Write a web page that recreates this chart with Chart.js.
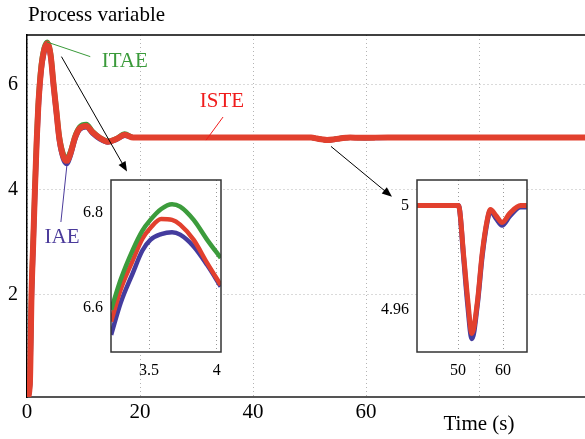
<!DOCTYPE html>
<html><head><meta charset="utf-8">
<script src="https://cdn.jsdelivr.net/npm/chart.js@4.4.1/dist/chart.umd.min.js"></script>
<style>
html,body{margin:0;padding:0;background:#fff;}
#wrap{position:relative;width:585px;height:439px;overflow:hidden;background:#fff;}
canvas{position:absolute;}
</style></head><body>
<div id="wrap">
<canvas id="main" width="585" height="439" style="left:0;top:0"></canvas>
<canvas id="in1" width="170" height="215" style="left:60px;top:170px"></canvas>
<canvas id="in2" width="170" height="215" style="left:365px;top:170px"></canvas>
</div>
<script>
// ---------- data ----------
const mainTime = [0,0.5,0.8,1.1,1.4,1.7,2.0,2.5,3.0,3.6,4.2,4.7,5.2,5.7,6.4,7.0,7.7,8.5,9.3,10.5,11.6,12.9,14.3,15.8,17.3,18.8,50.3,51.3,52.1,53.1,54.3,55.4,56.5,57.2,58.5,59.8,61.5,63.9,99];
const isteMain = [0,0.3,2.0,3.0,4.0,4.9,5.6,6.3,6.65,6.79,6.55,6.0,5.5,5.0,4.65,4.55,4.7,5.0,5.17,5.22,5.1,4.99,4.92,4.97,5.05,5.0,5.0,4.98,4.966,4.951,4.963,4.982,4.994,4.9985,4.996,4.993,4.997,5.0,5.0];
const iaeMain  = [0,0.28,1.9,2.9,3.9,4.8,5.5,6.25,6.6,6.76,6.52,5.95,5.45,4.95,4.6,4.5,4.66,4.97,5.15,5.2,5.08,4.97,4.91,4.96,5.04,5.0,5.0,4.979,4.964,4.949,4.962,4.981,4.993,4.998,4.995,4.9925,4.996,4.9995,5.0];
const itaeMain = [0,0.32,2.1,3.1,4.1,5.0,5.7,6.38,6.7,6.82,6.6,6.05,5.55,5.05,4.7,4.6,4.74,5.03,5.2,5.25,5.12,5.0,4.93,4.98,5.07,5.0,5.0,4.981,4.967,4.953,4.965,4.984,4.995,4.999,4.997,4.994,4.998,5.0,5.0];
const xTickValues = [0,20,40,60,80];
const xTickLabels = ['0','20','40','60',''];
const yTickValues = [2,4,6];
const yTickLabels = ['2','4','6'];

const zoom1Time = [3.22,3.29,3.38,3.45,3.51,3.59,3.67,3.73,3.83,3.93,4.03];
const zoom1ITAE = [6.596,6.659,6.722,6.762,6.785,6.808,6.818,6.813,6.785,6.743,6.705];
const zoom1ISTE = [6.571,6.638,6.700,6.745,6.768,6.787,6.785,6.775,6.743,6.694,6.648];
const zoom1IAE  = [6.543,6.610,6.673,6.720,6.743,6.755,6.759,6.754,6.729,6.690,6.645];
const zoom1XTicks = [3.5,4];
const zoom1YTicks = [6.6,6.8];

const zoom2Time = [40.9,50.1,51.3,52.1,53.1,54.3,55.4,56.5,57.2,58.5,59.8,61.5,63.9,65.3];
const zoom2ISTE = [5.0,5.0,4.980,4.965,4.951,4.963,4.982,4.9946,4.9985,4.996,4.9935,4.997,5.0,5.0];
const zoom2IAE  = [5.0,5.0,4.979,4.963,4.949,4.962,4.981,4.994,4.998,4.995,4.9925,4.996,4.9995,4.9995];
const zoom2XTicks = [50,60];
const zoom2YTicks = [4.96,5];

// ---------- style ----------
const SERIF = "'Liberation Serif','Times New Roman',serif";
const RED = '#e2402e', BLUE = '#443c9e', GREEN = '#3c9c3c';
const pts = (xs, ys) => xs.map((x,i)=>({x, y: ys[i]}));

const notes = [
  {text:'ITAE', color:'#3a9a3a', at:[17.3,6.44], line:[[3.5,6.82],[11.2,6.54]]},
  {text:'ISTE', color:'#f01c1c', at:[34.5,5.68], line:[[34.7,5.39],[31.7,4.95]]},
  {text:'IAE',  color:'#4b3b9b', at:[6.2,3.10],  line:[[7.1,4.51],[6.0,3.39]]}
];
const arrows = [[[6.1,6.54],[17.7,4.35]], [[53.8,4.83],[64.6,3.87]]];

const mainDecor = {
  id:'mainDecor',
  afterDatasetsDraw(chart){
    const {ctx, chartArea:a, scales:{x,y}} = chart;
    ctx.save();
    ctx.strokeStyle='#000'; ctx.lineWidth=1.5;
    ctx.beginPath(); ctx.moveTo(a.left, a.top); ctx.lineTo(a.right, a.top); ctx.stroke();
    ctx.lineWidth=1;
    notes.forEach(n=>{
      ctx.strokeStyle=n.color;
      ctx.beginPath();
      ctx.moveTo(x.getPixelForValue(n.line[0][0]), y.getPixelForValue(n.line[0][1]));
      ctx.lineTo(x.getPixelForValue(n.line[1][0]), y.getPixelForValue(n.line[1][1]));
      ctx.stroke();
      ctx.fillStyle=n.color; ctx.font='21px '+SERIF;
      ctx.textAlign='center'; ctx.textBaseline='middle';
      ctx.fillText(n.text, x.getPixelForValue(n.at[0]), y.getPixelForValue(n.at[1]));
    });
    ctx.strokeStyle='#000'; ctx.fillStyle='#000'; ctx.lineWidth=1;
    arrows.forEach(([s,e])=>{
      const x0=x.getPixelForValue(s[0]), y0=y.getPixelForValue(s[1]);
      const x1=x.getPixelForValue(e[0]), y1=y.getPixelForValue(e[1]);
      const ang=Math.atan2(y1-y0,x1-x0), L=10, W=4;
      ctx.beginPath(); ctx.moveTo(x0,y0); ctx.lineTo(x1-L*Math.cos(ang)*0.8,y1-L*Math.sin(ang)*0.8); ctx.stroke();
      ctx.beginPath();
      ctx.moveTo(x1,y1);
      ctx.lineTo(x1-L*Math.cos(ang)+W*Math.sin(ang), y1-L*Math.sin(ang)-W*Math.cos(ang));
      ctx.lineTo(x1-L*Math.cos(ang)-W*Math.sin(ang), y1-L*Math.sin(ang)+W*Math.cos(ang));
      ctx.closePath(); ctx.fill();
    });
    ctx.restore();
  },
  afterDraw(chart){
    const {ctx, scales:{x}} = chart;
    ctx.save();
    ctx.fillStyle='#000';
    ctx.font='21px '+SERIF; ctx.textAlign='left'; ctx.textBaseline='alphabetic';
    ctx.fillText('Process variable', 28, 21);
    ctx.textAlign='center'; ctx.textBaseline='middle';
    ctx.fillText('Time (s)', x.getPixelForValue(80), 424);
    ctx.restore();
  }
};

const lineDs = (label, data, color, w) => ({
  label, data, borderColor: color, borderWidth: w, pointRadius: 0,
  cubicInterpolationMode: 'monotone', fill: false
});
const fixY = w => s => { s.width = w; s.paddingTop = 0; s.paddingBottom = 0; };
const fixX = h => s => { s.height = h; s.paddingLeft = 0; s.paddingRight = 0; };

new Chart(document.getElementById('main'), {
  type:'line',
  data:{datasets:[
    lineDs('ISTE', pts(mainTime, isteMain), RED, 6),
    lineDs('IAE',  pts(mainTime, iaeMain), BLUE, 5),
    lineDs('ITAE', pts(mainTime, itaeMain), GREEN, 5)
  ]},
  options:{
    responsive:false, animation:false, devicePixelRatio:1,
    layout:{padding:{top:35,left:0,right:0,bottom:0}},
    plugins:{legend:{display:false}, tooltip:{enabled:false}},
    scales:{
      x:{type:'linear', min:0, max:98.76,
        afterBuildTicks:s=>{s.ticks = xTickValues.map(v=>({value:v}));},
        afterFit:fixX(42),
        ticks:{callback:(v)=>xTickLabels[xTickValues.indexOf(v)], color:'#000', font:{family:SERIF,size:21}, padding:3, maxRotation:0, autoSkip:false},
        grid:{color:'#b4b4b4', lineWidth:1, drawTicks:false},
        border:{display:true, color:'#555', width:2, dash:[1,3]}
      },
      y:{type:'linear', min:0.057, max:6.952,
        afterBuildTicks:s=>{s.ticks = yTickValues.map(v=>({value:v}));},
        afterFit:fixY(27),
        ticks:{callback:(v)=>yTickLabels[yTickValues.indexOf(v)], color:'#000', font:{family:SERIF,size:20}, padding:9},
        grid:{color:'#b4b4b4', lineWidth:1, drawTicks:false},
        border:{display:true, color:'#000', width:1.5, dash:[1,3]}
      }
    }
  },
  plugins:[mainDecor]
});

const whiteBox = {
  id:'whiteBox',
  beforeDraw(chart){
    const {ctx, chartArea:a} = chart;
    ctx.save(); ctx.fillStyle='#fff'; ctx.fillRect(a.left,a.top,a.right-a.left,a.bottom-a.top); ctx.restore();
  },
  afterDraw(chart){
    const {ctx, chartArea:a} = chart;
    ctx.save(); ctx.strokeStyle='#333'; ctx.lineWidth=1.5;
    ctx.strokeRect(a.left,a.top,a.right-a.left,a.bottom-a.top); ctx.restore();
  }
};

function inset(id, datasets, xr, yr, xt, yt, yw, rp, fmtY){
  new Chart(document.getElementById(id), {
    type:'line',
    data:{datasets},
    options:{
      responsive:false, animation:false, devicePixelRatio:1,
      layout:{padding:{top:10,left:0,right:rp,bottom:0}},
      plugins:{legend:{display:false}, tooltip:{enabled:false}},
      scales:{
        x:{type:'linear', min:xr[0], max:xr[1],
          afterBuildTicks:s=>{s.ticks = xt.map(v=>({value:v}));},
          afterFit:fixX(33),
          ticks:{callback:v=>String(v), color:'#000', font:{family:SERIF,size:16}, padding:9, maxRotation:0, autoSkip:false},
          grid:{color:'#999', lineWidth:1, drawTicks:false},
          border:{display:false, dash:[1,3]}
        },
        y:{type:'linear', min:yr[0], max:yr[1],
          afterBuildTicks:s=>{s.ticks = yt.map(v=>({value:v}));},
          afterFit:fixY(yw),
          ticks:{callback:fmtY, color:'#000', font:{family:SERIF,size:16}, padding:8},
          grid:{display:false, drawTicks:false},
          border:{display:false}
        }
      }
    },
    plugins:[whiteBox]
  });
}

inset('in1', [
    lineDs('ITAE', pts(zoom1Time, zoom1ITAE), GREEN, 4.5),
    lineDs('ISTE', pts(zoom1Time, zoom1ISTE), RED, 4.5),
    lineDs('IAE',  pts(zoom1Time, zoom1IAE), BLUE, 4.5)
  ], [3.219,4.032], [6.507,6.869], zoom1XTicks, zoom1YTicks, 51, 9, v=>v.toFixed(1));

inset('in2', [
    lineDs('ISTE', pts(zoom2Time, zoom2ISTE), RED, 5),
    lineDs('IAE',  pts(zoom2Time, zoom2IAE), BLUE, 5)
  ], [40.89,65.33], [4.9439,5.0098], zoom2XTicks, zoom2YTicks, 52, 8, v=>(v===5?'5':v.toFixed(2)));
</script>
</body></html>
